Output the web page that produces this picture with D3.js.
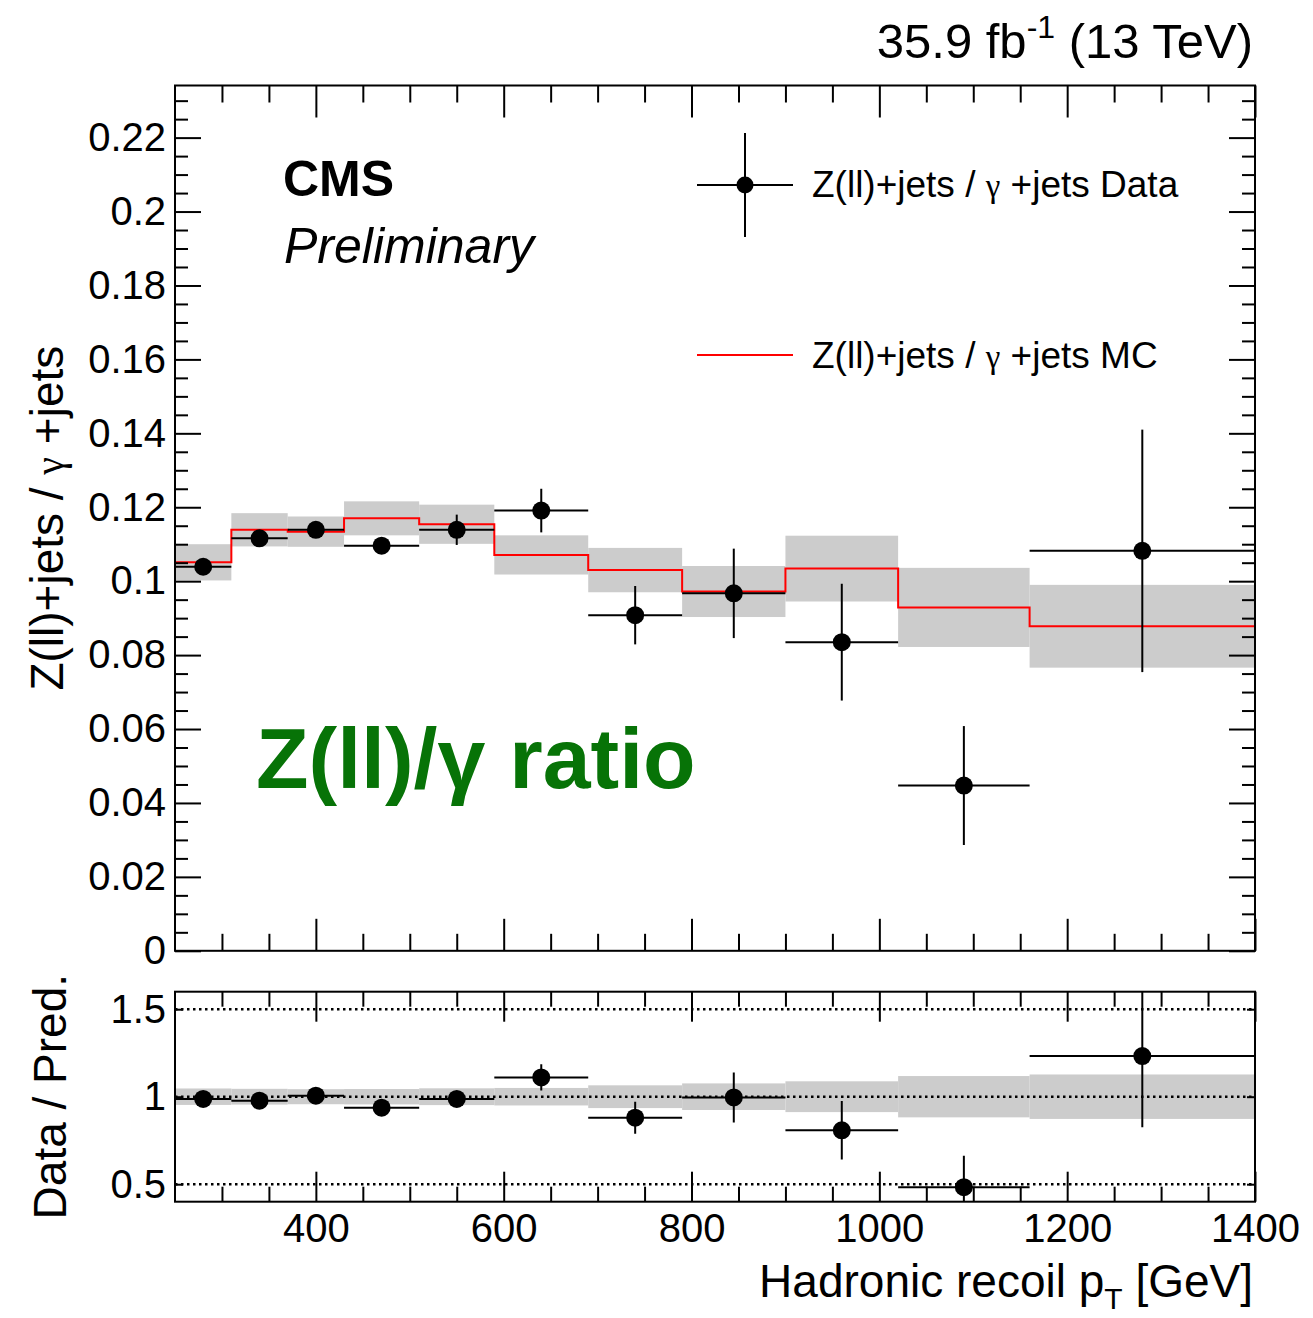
<!DOCTYPE html>
<html>
<head>
<meta charset="utf-8">
<script src="https://cdn.jsdelivr.net/npm/d3@7"></script>
<style>
  html, body { margin: 0; padding: 0; background: #fff; }
  svg text { font-family: "Liberation Sans", Arial, Helvetica, sans-serif; fill: #000; }
</style>
</head>
<body>
<svg id="chart" width="1313" height="1318"></svg>
<script>
// ---------------- data ----------------
const binEdges = [250, 310, 370, 430, 510, 590, 690, 790, 900, 1020, 1160, 1400];
const dataVals = [0.1039, 0.1116, 0.1139, 0.1096, 0.1139, 0.1191, 0.0908, 0.0967, 0.0835, 0.0447, 0.1082];
const dataErr  = [0.0018, 0.0018, 0.0018, 0.0018, 0.0041, 0.0059, 0.0079, 0.0121, 0.0158, 0.0161, 0.0328];
const mcVals   = [0.1051, 0.1139, 0.1134, 0.1170, 0.1154, 0.1071, 0.1030, 0.0972, 0.1034, 0.0929, 0.0878];
const mcErr    = [0.0049, 0.0045, 0.0041, 0.0046, 0.0053, 0.0053, 0.0060, 0.0069, 0.0089, 0.0107, 0.0112];
const ratioVals = [0.987, 0.977, 1.006, 0.937, 0.987, 1.110, 0.880, 0.996, 0.808, 0.483, 1.232];
const ratioErr  = [0.017, 0.016, 0.016, 0.016, 0.036, 0.075, 0.091, 0.143, 0.167, 0.180, 0.407];
const ratioBand = [0.047, 0.045, 0.043, 0.044, 0.048, 0.050, 0.065, 0.076, 0.088, 0.118, 0.127];
const mainYTicks = [0, 0.02, 0.04, 0.06, 0.08, 0.10, 0.12, 0.14, 0.16, 0.18, 0.20, 0.22];
const ratioYTicks = [0.5, 1, 1.5];
const xTicks = [400, 600, 800, 1000, 1200, 1400];
const legendLabels = ["Z(ll)+jets / ", "γ", " +jets Data", " +jets MC"];

// ---------------- layout ----------------
const L = 175, R = 1255;
const mainTop = 85.5, mainBot = 950.8;
const ratTop = 991.7, ratBot = 1201.7;
const BAND = "#cccccc", RED = "#ff0000";

const svg = d3.select("#chart");
const x = d3.scaleLinear().domain([250, 1400]).range([L, R]);
const y = d3.scaleLinear().domain([0, 0.2341]).range([mainBot, mainTop]);
const yr = d3.scaleLinear().domain([0.4, 1.6]).range([ratBot, ratTop]);

const bins = d3.range(dataVals.length).map(i => ({
  lo: binEdges[i], hi: binEdges[i + 1], c: (binEdges[i] + binEdges[i + 1]) / 2,
  d: dataVals[i], de: dataErr[i], m: mcVals[i], me: mcErr[i],
  r: ratioVals[i], re: ratioErr[i], rb: ratioBand[i]
}));

const defs = svg.append("defs");
defs.append("clipPath").attr("id", "clipMain").append("rect")
  .attr("x", L).attr("y", mainTop).attr("width", R - L).attr("height", mainBot - mainTop);
defs.append("clipPath").attr("id", "clipRat").append("rect")
  .attr("x", L).attr("y", ratTop).attr("width", R - L).attr("height", ratBot - ratTop);

// ---------------- main panel ----------------
const gm = svg.append("g").attr("clip-path", "url(#clipMain)");
gm.selectAll("rect.band").data(bins).enter().append("rect")
  .attr("x", d => x(d.lo)).attr("width", d => x(d.hi) - x(d.lo))
  .attr("y", d => y(d.m + d.me)).attr("height", d => y(d.m - d.me) - y(d.m + d.me))
  .attr("fill", BAND);

// MC step line
const stepPts = [];
bins.forEach(b => { stepPts.push([x(b.lo), y(b.m)]); stepPts.push([x(b.hi), y(b.m)]); });
gm.append("path").attr("d", d3.line()(stepPts)).attr("fill", "none")
  .attr("stroke", RED).attr("stroke-width", 2);

function drawPoints(g, ys, valKey, errKey) {
  const pts = g.selectAll("g.pt").data(bins).enter().append("g");
  pts.append("line").attr("x1", d => x(d.lo)).attr("x2", d => x(d.hi))
    .attr("y1", d => ys(d[valKey])).attr("y2", d => ys(d[valKey]))
    .attr("stroke", "#000").attr("stroke-width", 2);
  pts.append("line").attr("x1", d => x(d.c)).attr("x2", d => x(d.c))
    .attr("y1", d => ys(d[valKey] + d[errKey])).attr("y2", d => ys(d[valKey] - d[errKey]))
    .attr("stroke", "#000").attr("stroke-width", 2);
  pts.append("circle").attr("cx", d => x(d.c)).attr("cy", d => ys(d[valKey]))
    .attr("r", 9).attr("fill", "#000");
}
drawPoints(gm, y, "d", "de");

// ---------------- ratio panel ----------------
const gr = svg.append("g").attr("clip-path", "url(#clipRat)");
gr.selectAll("rect.band").data(bins).enter().append("rect")
  .attr("x", d => x(d.lo)).attr("width", d => x(d.hi) - x(d.lo))
  .attr("y", d => yr(1 + d.rb)).attr("height", d => yr(1 - d.rb) - yr(1 + d.rb))
  .attr("fill", BAND);
gr.selectAll("line.dot").data(ratioYTicks).enter().append("line")
  .attr("x1", L).attr("x2", R).attr("y1", d => yr(d)).attr("y2", d => yr(d))
  .attr("stroke", "#000").attr("stroke-width", 2.5).attr("stroke-dasharray", "2.5,3.5");
drawPoints(gr, yr, "r", "re");

// ---------------- axes ----------------
const minorX = d3.range(300, 1400, 50).filter(v => v % 200 !== 0);
function xAxes(t, b, majLen, minLen, labels) {
  const gb = svg.append("g").attr("transform", `translate(0,${b})`)
    .call(d3.axisBottom(x).tickValues(xTicks).tickSize(-majLen)
      .tickFormat(labels ? d3.format("d") : () => ""));
  const gbm = svg.append("g").attr("transform", `translate(0,${b})`)
    .call(d3.axisBottom(x).tickValues(minorX).tickSize(-minLen).tickFormat(() => ""));
  const gt = svg.append("g").attr("transform", `translate(0,${t})`)
    .call(d3.axisTop(x).tickValues(xTicks).tickSize(-majLen).tickFormat(() => ""));
  const gtm = svg.append("g").attr("transform", `translate(0,${t})`)
    .call(d3.axisTop(x).tickValues(minorX).tickSize(-minLen).tickFormat(() => ""));
  [gb, gbm, gt, gtm].forEach(g => {
    g.select(".domain").remove();
    g.selectAll("line").attr("stroke", "#000").attr("stroke-width", 2);
  });
  if (labels) {
    gb.selectAll("text").attr("font-size", 40).attr("fill", "#000")
      .attr("y", 40).attr("dy", 0)
      .style("font-family", '"Liberation Sans", Arial, sans-serif');
  }
}
xAxes(mainTop, mainBot, 32, 17, false);
xAxes(ratTop, ratBot, 30, 15, true);

const minorY = d3.range(0.005, 0.2341, 0.005).filter(v => Math.abs(v / 0.02 - Math.round(v / 0.02)) > 1e-6);
function yAxes(scale, majT, minT, majLen, minLen, fmt) {
  const gl = svg.append("g").attr("transform", `translate(${L},0)`)
    .call(d3.axisLeft(scale).tickValues(majT).tickSize(-majLen).tickFormat(fmt));
  const gr2 = svg.append("g").attr("transform", `translate(${R},0)`)
    .call(d3.axisRight(scale).tickValues(majT).tickSize(-majLen).tickFormat(() => ""));
  const list = [gl, gr2];
  if (minT.length) {
    list.push(svg.append("g").attr("transform", `translate(${L},0)`)
      .call(d3.axisLeft(scale).tickValues(minT).tickSize(-minLen).tickFormat(() => "")));
    list.push(svg.append("g").attr("transform", `translate(${R},0)`)
      .call(d3.axisRight(scale).tickValues(minT).tickSize(-minLen).tickFormat(() => "")));
  }
  list.forEach(g => {
    g.select(".domain").remove();
    g.selectAll("line").attr("stroke", "#000").attr("stroke-width", 2);
  });
  gl.selectAll("text").attr("font-size", 40).attr("fill", "#000").attr("x", -9)
    .style("font-family", '"Liberation Sans", Arial, sans-serif');
}
yAxes(y, mainYTicks, minorY, 26, 13, d => d === 0 ? "0" : String(+d.toFixed(2)));
yAxes(yr, ratioYTicks, [], 8, 0, d => String(d));

// frames
[[mainTop, mainBot], [ratTop, ratBot]].forEach(([t, b]) => {
  svg.append("rect").attr("x", L).attr("y", t).attr("width", R - L).attr("height", b - t)
    .attr("fill", "none").attr("stroke", "#000").attr("stroke-width", 2);
});

// ---------------- texts ----------------
const lumiText = svg.append("text").attr("x", 1253).attr("y", 58).attr("text-anchor", "end").attr("font-size", 49);
lumiText.append("tspan").text("35.9 fb");
lumiText.append("tspan").attr("dy", -20).attr("font-size", 32).text("-1");
lumiText.append("tspan").attr("dy", 20).text(" (13 TeV)");

svg.append("text").attr("x", 283).attr("y", 196).attr("font-size", 50).attr("font-weight", "bold").text("CMS");
svg.append("text").attr("x", 284).attr("y", 263).attr("font-size", 50).attr("font-style", "italic").text("Preliminary");
svg.append("text").attr("x", 256).attr("y", 788).attr("font-size", 86).attr("font-weight", "bold")
  .style("fill", "#077307").text("Z(ll)/γ ratio");

// legend
const lx0 = 697, lx1 = 793, lxc = 745;
svg.append("line").attr("x1", lx0).attr("x2", lx1).attr("y1", 185).attr("y2", 185).attr("stroke", "#000").attr("stroke-width", 2);
svg.append("line").attr("x1", lxc).attr("x2", lxc).attr("y1", 133).attr("y2", 237).attr("stroke", "#000").attr("stroke-width", 2);
svg.append("circle").attr("cx", lxc).attr("cy", 185).attr("r", 8.5).attr("fill", "#000");
svg.append("line").attr("x1", lx0).attr("x2", lx1).attr("y1", 355).attr("y2", 355).attr("stroke", RED).attr("stroke-width", 2);

function legendText(yb, suffix) {
  const t = svg.append("text").attr("x", 812).attr("y", yb).attr("font-size", 37);
  t.append("tspan").text(legendLabels[0]);
  t.append("tspan").attr("font-size", 33).style("font-family", '"Liberation Serif", "DejaVu Serif", serif').text(legendLabels[1]);
  t.append("tspan").text(suffix);
}
legendText(197, legendLabels[2]);
legendText(368, legendLabels[3]);

// axis titles
const yTitle = svg.append("text").attr("transform", `translate(63,${(mainTop + mainBot) / 2}) rotate(-90)`)
  .attr("text-anchor", "middle").attr("font-size", 46);
yTitle.append("tspan").text("Z(ll)+jets / ");
yTitle.append("tspan").attr("font-size", 40).style("font-family", '"Liberation Serif", "DejaVu Serif", serif').text("γ");
yTitle.append("tspan").text(" +jets");

svg.append("text").attr("transform", `translate(66,${(ratTop + ratBot) / 2}) rotate(-90)`)
  .attr("text-anchor", "middle").attr("font-size", 46).text("Data / Pred.");

const xTitle = svg.append("text").attr("x", 1253).attr("y", 1297).attr("text-anchor", "end").attr("font-size", 46);
xTitle.append("tspan").text("Hadronic recoil p");
xTitle.append("tspan").attr("dy", 12).attr("font-size", 30).text("T");
xTitle.append("tspan").attr("dy", -12).text(" [GeV]");
</script>
</body>
</html>
